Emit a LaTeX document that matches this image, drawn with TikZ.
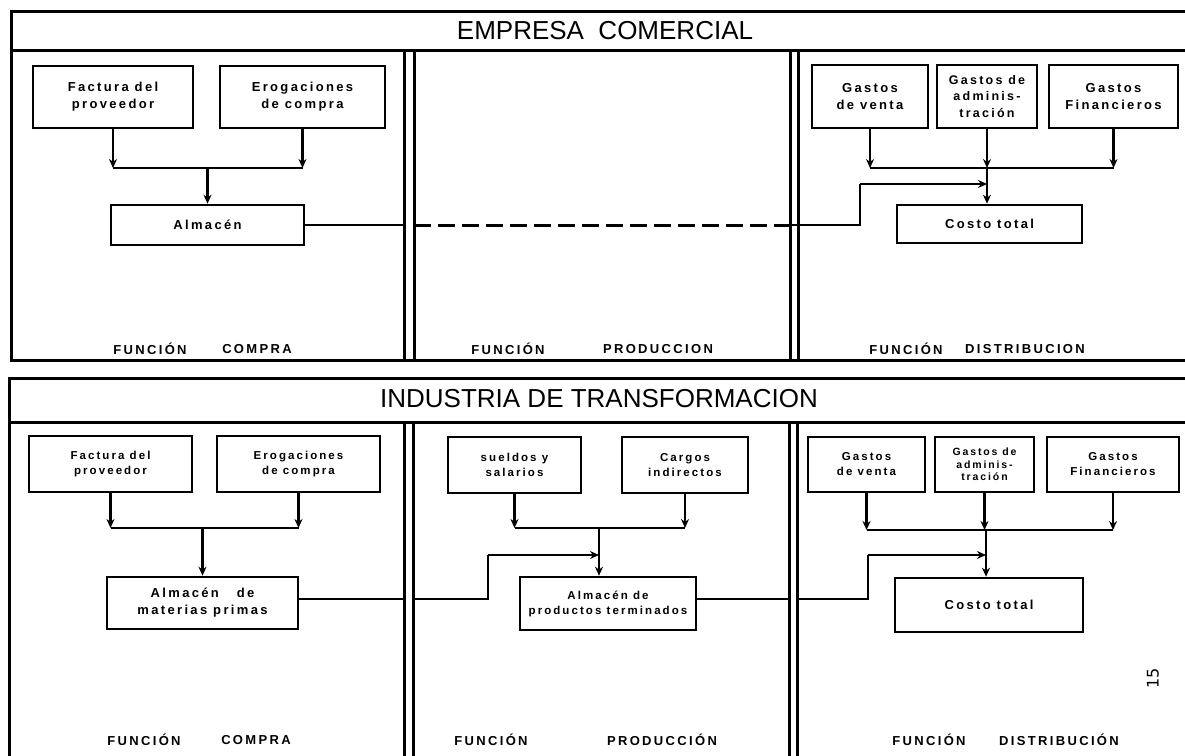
\documentclass[tikz,border=0pt]{standalone}
\usepackage{fontspec}
\setmainfont{Liberation Sans}
\newfontfamily\lblfont[LetterSpace=18]{Liberation Sans}
\newfontfamily\handfont{DejaVu Sans}
\usetikzlibrary{arrows.meta}
\tikzset{
  frame/.style={line width=3pt},
  box/.style={draw, line width=2.6pt, inner sep=1pt, align=center},
  bigtxt/.style={font=\lblfont\bfseries\fontsize{13}{17}\selectfont},
  midtxt/.style={font=\lblfont\bfseries\fontsize{12.5}{16.5}\selectfont},
  smalltxt/.style={font=\lblfont\bfseries\fontsize{11.5}{15}\selectfont},
  tinytxt/.style={font=\lblfont\bfseries\fontsize{10.5}{12.5}\selectfont},
  conn/.style={line width=2.8pt},
  arr/.style={conn, -{Stealth[length=9pt,width=8pt]}},
  dashconn/.style={line width=3pt, dash pattern=on 17pt off 7pt},
  foot/.style={font=\lblfont\bfseries\fontsize{13}{15}\selectfont, inner sep=0},
  titletxt/.style={font=\fontsize{26}{30}\selectfont, inner sep=0},
}
\begin{document}
\begin{tikzpicture}[x=1pt,y=-1pt]
\useasboundingbox (0,0) rectangle (1185,755);
\clip (0,0) rectangle (1185,755);
\fill[white] (0,0) rectangle (1185,755);

% ---------- top panel frame ----------
\draw[frame] (1195,11) -- (11,11) -- (11,360) -- (1195,360);
\draw[frame] (11,50) -- (1195,50);
\draw[frame] (404,50) -- (404,360);
\draw[frame] (414,50) -- (414,360);
\draw[frame] (790,50) -- (790,360);
\draw[frame] (798,50) -- (798,360);
\node[titletxt] (t1) at (605,31) {EMPRESA\ \ COMERCIAL};

% ---------- bottom panel frame ----------
\draw[frame] (1195,378) -- (9,378) -- (9,775);
\draw[frame] (9,422) -- (1195,422);
\draw[frame] (404,422) -- (404,775);
\draw[frame] (413,422) -- (413,775);
\draw[frame] (789,422) -- (789,775);
\draw[frame] (797,422) -- (797,775);
\node[titletxt] (t2) at (599,399) {INDUSTRIA DE TRANSFORMACION};

% ---------- top: compra ----------
\node[box, bigtxt, minimum width=160pt, minimum height=62pt] (fp1) at (113,97) {Factura del\\proveedor};
\node[box, bigtxt, minimum width=165pt, minimum height=62pt] (ec1) at (302.5,97) {Erogaciones\\de compra};
\node[box, bigtxt, minimum width=193pt, minimum height=40pt] (al1) at (207.5,225) {Almacén};
\coordinate (j1) at (207.5,168);
\draw[arr] (fp1.south) -- (fp1.south |- j1);
\draw[arr] (ec1.south) -- (ec1.south |- j1);
\draw[conn] (fp1.south |- j1) -- (ec1.south |- j1);
\draw[arr] (j1) -- (al1.north);

% ---------- top: distribucion ----------
\node[box, bigtxt, minimum width=116pt, minimum height=63pt] (gv1) at (870,96.5) {Gastos\\de venta};
\node[box, midtxt, minimum width=100pt, minimum height=63pt] (ga1) at (987,96.5) {Gastos de\\adminis-\\tración};
\node[box, bigtxt, minimum width=129pt, minimum height=63pt] (gf1) at (1113.5,96.5) {Gastos\\Financieros};
\node[box, bigtxt, minimum width=185pt, minimum height=38pt] (ct1) at (989.5,224) {Costo total};
\coordinate (j2) at (987,168);
\draw[arr] (gv1.south) -- (gv1.south |- j2);
\draw[arr] (ga1.south) -- (j2);
\draw[arr] (gf1.south) -- (gf1.south |- j2);
\draw[conn] (gv1.south |- j2) -- (gf1.south |- j2);
\draw[arr] (j2) -- (j2 |- ct1.north);

% ---------- top: link across ----------
\coordinate (s1) at (404,225);
\coordinate (s2) at (414,225);
\coordinate (s3) at (790,225);
\coordinate (s4) at (860,225);
\coordinate (s5) at (860,184);
\draw[conn] (al1.east) -- (s1);
\draw[dashconn] (s2) -- (s3);
\draw[conn] (s3) -- (s4) -- (s5);
\draw[arr] (s5) -- (s5 -| j2);

% ---------- top footers ----------
\node[foot] (f1a) at (150,349) {FUNCIÓN};
\node[foot] (f1b) at (257,349) {COMPRA};
\node[foot] (f2a) at (508,349) {FUNCIÓN};
\node[foot] (f2b) at (658,349) {PRODUCCION};
\node[foot] (f3a) at (906,349) {FUNCIÓN};
\node[foot] (f3b) at (1025,349) {DISTRIBUCION};

% ---------- bottom: compra ----------
\node[box, smalltxt, minimum width=163pt, minimum height=56pt] (fp2) at (110.5,464) {Factura del\\proveedor};
\node[box, smalltxt, minimum width=163pt, minimum height=56pt] (ec2) at (298.5,464) {Erogaciones\\de compra};
\node[box, bigtxt, minimum width=191pt, minimum height=52pt] (am2) at (202.5,603) {Almacén\ \ \ de\\materias primas};
\coordinate (j3) at (202.5,528);
\draw[arr] (fp2.south) -- (fp2.south |- j3);
\draw[arr] (ec2.south) -- (ec2.south |- j3);
\draw[conn] (fp2.south |- j3) -- (ec2.south |- j3);
\draw[arr] (j3) -- (am2.north);

% ---------- bottom: produccion ----------
\node[box, smalltxt, minimum width=133pt, minimum height=56pt] (sy2) at (514.5,465) {sueldos y\\salarios};
\node[box, smalltxt, minimum width=126pt, minimum height=56pt] (ci2) at (685,465) {Cargos\\indirectos};
\node[box, smalltxt, minimum width=176pt, minimum height=53pt] (ap2) at (608,603.5) {Almacén de\\productos terminados};
\coordinate (j4) at (599,528);
\draw[arr] (sy2.south) -- (sy2.south |- j4);
\draw[arr] (ci2.south) -- (ci2.south |- j4);
\draw[conn] (sy2.south |- j4) -- (ci2.south |- j4);
\draw[arr] (j4) -- (j4 |- ap2.north);

\coordinate (m1) at (404,599);
\coordinate (m2) at (413,599);
\coordinate (m3) at (488,599);
\coordinate (m4) at (488,555);
\draw[conn] (am2.east |- m1) -- (m1);
\draw[conn] (m2) -- (m3) -- (m4);
\draw[arr] (m4) -- (m4 -| j4);

% ---------- bottom: distribucion ----------
\node[box, smalltxt, minimum width=117pt, minimum height=55pt] (gv2) at (866.5,464.5) {Gastos\\de venta};
\node[box, tinytxt, minimum width=99pt, minimum height=55pt] (ga2) at (984.5,464.5) {Gastos de\\adminis-\\tración};
\node[box, smalltxt, minimum width=132pt, minimum height=55pt] (gf2) at (1113,464.5) {Gastos\\Financieros};
\node[box, bigtxt, minimum width=188pt, minimum height=54pt] (ct2) at (989,605) {Costo total};
\coordinate (j5) at (986,530);
\draw[arr] (gv2.south) -- (gv2.south |- j5);
\draw[arr] (ga2.south) -- (ga2.south |- j5);
\draw[arr] (gf2.south) -- (gf2.south |- j5);
\draw[conn] (gv2.south |- j5) -- (gf2.south |- j5);
\draw[arr] (j5) -- (j5 |- ct2.north);

\coordinate (r1) at (789,599);
\coordinate (r2) at (797,599);
\coordinate (r3) at (868,599);
\coordinate (r4) at (868,555);
\draw[conn] (ap2.east |- r1) -- (r1);
\draw[conn] (r2) -- (r3) -- (r4);
\draw[arr] (r4) -- (r4 -| j5);

% ---------- bottom footers ----------
\node[foot] (g1a) at (144,740) {FUNCIÓN};
\node[foot] (g1b) at (256,740) {COMPRA};
\node[foot] (g2a) at (491,740) {FUNCIÓN};
\node[foot] (g2b) at (662,740) {PRODUCCIÓN};
\node[foot] (g3a) at (929,740) {FUNCIÓN};
\node[foot] (g3b) at (1059,740) {DISTRIBUCIÓN};

% handwritten mark
\node[font=\handfont\fontsize{16}{16}\selectfont, rotate=90, inner sep=0] (hw) at (1153,678) {15};
\end{tikzpicture}
\end{document}
